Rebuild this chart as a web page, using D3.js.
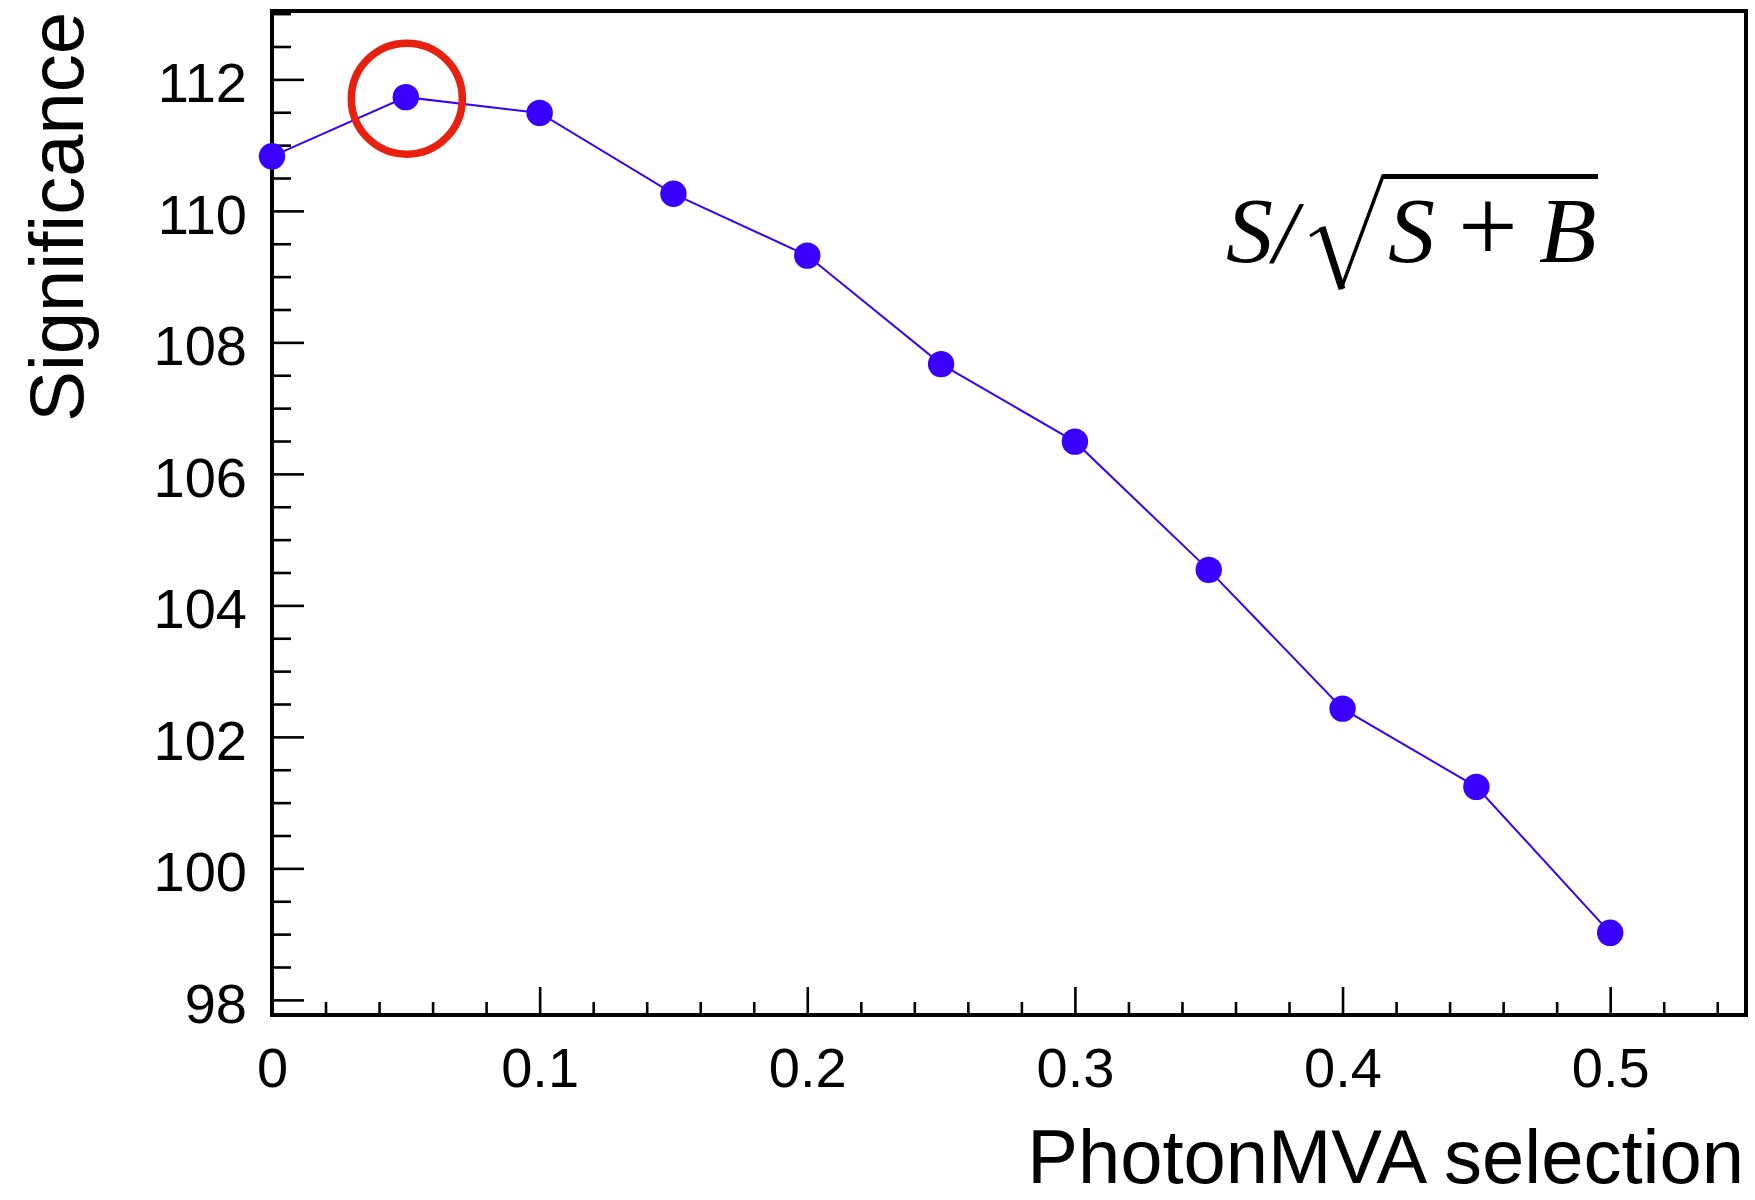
<!DOCTYPE html>
<html>
<head>
<meta charset="utf-8">
<script src="https://d3js.org/d3.v7.min.js"></script>
<style>
  html, body { margin: 0; padding: 0; background: #ffffff; }
  svg { display: block; }
</style>
</head>
<body>
<svg id="chart" width="1755" height="1200"></svg>
<script>
// ---- data ----
const photonMvaCut = [0, 0.05, 0.1, 0.15, 0.2, 0.25, 0.3, 0.35, 0.4, 0.45, 0.5];
const significance = [110.83, 111.73, 111.49, 110.26, 109.32, 107.67, 106.49, 104.54, 102.43, 101.24, 99.02];
const xTickValues = [0, 0.1, 0.2, 0.3, 0.4, 0.5];
const xTickLabels = ["0", "0.1", "0.2", "0.3", "0.4", "0.5"];
const yTickValues = [98, 100, 102, 104, 106, 108, 110, 112];
const yTickLabels = ["98", "100", "102", "104", "106", "108", "110", "112"];
const xAxisRange = [0, 0.55];
const yAxisRange = [97.77, 113.04];
const xTitle = "PhotonMVA selection";
const yTitle = "Significance";

(function () {
// ---- layout ----
const W = 1755, H = 1200;
const pLeft = 272, pRight = 1744, pTop = 11, pBottom = 1015;
const blue = "#3a00ff";
const sans = "'Liberation Sans', Arial, Helvetica, sans-serif";
const serif = "'Liberation Serif', 'Times New Roman', serif";

const svg = d3.select("#chart");
svg.append("rect").attr("width", W).attr("height", H).attr("fill", "#fff");

const x = d3.scaleLinear().domain(xAxisRange).range([pLeft, pRight]);
const y = d3.scaleLinear().domain(yAxisRange).range([pBottom, pTop]);

// minor ticks
const xMinor = d3.range(0.02, 0.5501, 0.02).filter(v => Math.abs(v * 10 - Math.round(v * 10)) > 1e-6);
const yMinor = d3.range(98, 113.01, 0.5).filter(v => v % 2 !== 0);

function styleAxis(g) {
  g.select(".domain").remove();
  g.selectAll(".tick line").attr("stroke", "#000").attr("stroke-width", 2.6);
  g.selectAll(".tick text").attr("fill", "#000").attr("font-family", sans).attr("font-size", 56);
}

// x axis
svg.append("g").attr("transform", `translate(0,${pBottom})`)
  .call(d3.axisBottom(x).tickValues(xMinor).tickSizeInner(-13).tickSizeOuter(0).tickFormat(""))
  .call(styleAxis);
svg.append("g").attr("transform", `translate(0,${pBottom})`)
  .call(d3.axisBottom(x).tickValues(xTickValues).tickSizeInner(-28).tickSizeOuter(0).tickPadding(32)
        .tickFormat((d, i) => xTickLabels[i]))
  .call(styleAxis);

// y axis
svg.append("g").attr("transform", `translate(${pLeft},0)`)
  .call(d3.axisLeft(y).tickValues(yMinor).tickSizeInner(-19).tickSizeOuter(0).tickFormat(""))
  .call(styleAxis);
const yAx = svg.append("g").attr("transform", `translate(${pLeft},0)`)
  .call(d3.axisLeft(y).tickValues(yTickValues).tickSizeInner(-32).tickSizeOuter(0).tickPadding(25)
        .tickFormat((d, i) => yTickLabels[i]))
  .call(styleAxis);
yAx.selectAll(".tick text").attr("dy", "0.4em");

// frame
svg.append("rect")
  .attr("x", pLeft).attr("y", pTop)
  .attr("width", pRight + 2 - pLeft).attr("height", pBottom - pTop)
  .attr("fill", "none").attr("stroke", "#000").attr("stroke-width", 4);

// data line + markers
const pts = photonMvaCut.map((v, i) => [v, significance[i]]);
svg.append("path")
  .datum(pts)
  .attr("d", d3.line().x(d => x(d[0])).y(d => y(d[1])))
  .attr("fill", "none").attr("stroke", blue).attr("stroke-width", 2);
svg.append("g").selectAll("circle").data(pts).join("circle")
  .attr("cx", d => x(d[0])).attr("cy", d => y(d[1]))
  .attr("r", 13.2).attr("fill", blue);

// highlight of the maximum
const iMax = d3.maxIndex(significance);
svg.append("circle")
  .attr("cx", x(photonMvaCut[iMax]) + 1).attr("cy", y(significance[iMax]) + 1.5)
  .attr("r", 55.5).attr("fill", "none").attr("stroke", "#e8200f").attr("stroke-width", 7.5);

// axis titles
svg.append("text")
  .attr("x", pRight).attr("y", 1183)
  .attr("text-anchor", "end")
  .attr("font-family", sans).attr("font-size", 76).attr("fill", "#000")
  .text(xTitle);
svg.append("text")
  .attr("transform", `translate(83,12) rotate(-90)`)
  .attr("text-anchor", "end")
  .attr("font-family", sans).attr("font-size", 76).attr("fill", "#000")
  .text(yTitle);

// formula S/sqrt(S+B)
const fBase = 262, fSize = 94;
const f1 = svg.append("text").attr("x", 1226).attr("y", fBase)
  .attr("font-family", serif).attr("font-size", fSize).attr("fill", "#000");
f1.append("tspan").attr("font-style", "italic").text("S");
f1.append("tspan").attr("font-style", "italic").attr("font-size", fSize - 6).text("/");
svg.append("path")
  .attr("d", "M1310,236 L1323,228")
  .attr("fill", "none").attr("stroke", "#000").attr("stroke-width", 3);
svg.append("path")
  .attr("d", "M1322,227 L1342,289")
  .attr("fill", "none").attr("stroke", "#000").attr("stroke-width", 7);
svg.append("path")
  .attr("d", "M1341,289 L1383,176 L1598,176")
  .attr("fill", "none").attr("stroke", "#000").attr("stroke-width", 3.5);
svg.append("line").attr("x1", 1383).attr("x2", 1598).attr("y1", 176.5).attr("y2", 176.5)
  .attr("stroke", "#000").attr("stroke-width", 5);
svg.append("text").attr("x", 1388).attr("y", fBase)
  .attr("font-family", serif).attr("font-size", fSize).attr("font-style", "italic").attr("fill", "#000")
  .text("S");
svg.append("text").attr("x", 1488).attr("y", fBase).attr("text-anchor", "middle")
  .attr("font-family", serif).attr("font-size", fSize + 12).attr("fill", "#000")
  .text("+");
svg.append("text").attr("x", 1539).attr("y", fBase)
  .attr("font-family", serif).attr("font-size", fSize).attr("font-style", "italic").attr("fill", "#000")
  .text("B");
})();
</script>
</body>
</html>
